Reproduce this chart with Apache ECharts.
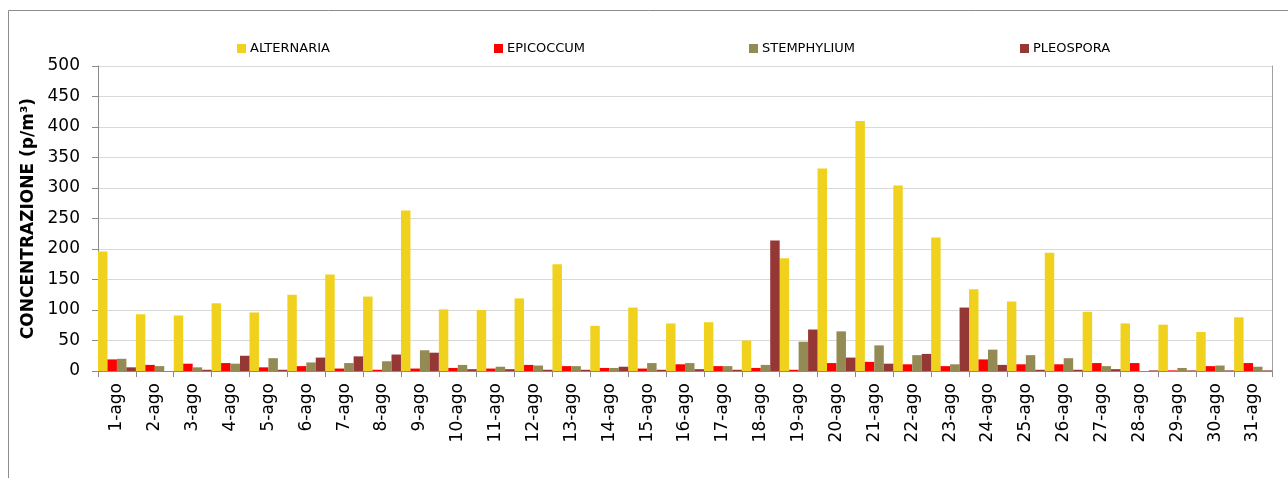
<!DOCTYPE html>
<html>
<head>
<meta charset="utf-8">
<script src="https://cdn.jsdelivr.net/npm/echarts@6/dist/echarts.min.js"></script>
<style>
html,body{margin:0;padding:0;background:#fff;}
#c{width:1288px;height:478px;}
</style>
</head>
<body>
<div id="c"></div>
<script>
const categories = ['1-ago','2-ago','3-ago','4-ago','5-ago','6-ago','7-ago','8-ago','9-ago','10-ago','11-ago','12-ago','13-ago','14-ago','15-ago','16-ago','17-ago','18-ago','19-ago','20-ago','21-ago','22-ago','23-ago','24-ago','25-ago','26-ago','27-ago','28-ago','29-ago','30-ago','31-ago'];
const alternaria = [196,93,91,111,96,125,158,122,263,101,100,119,175,74,104,78,80,50,185,332,410,304,219,134,114,194,97,78,76,64,88];
const epicoccum = [19,10,12,13,6,8,4,2,4,5,4,10,8,5,4,11,8,5,2,13,15,11,8,19,11,11,13,13,1,8,13];
const stemphylium = [20,8,6,12,21,14,13,16,34,10,7,9,8,5,13,13,8,10,48,65,42,26,11,35,26,21,8,0,5,9,7];
const pleospora = [6,0,2,25,2,22,24,27,30,3,3,2,2,7,2,3,2,214,68,22,12,28,104,10,2,2,3,1,1,1,1];
const seriesNames = ['ALTERNARIA','EPICOCCUM','STEMPHYLIUM','PLEOSPORA'];
const seriesColors = ['#F0D21E','#FF0000','#948A54','#953735'];
const seriesData = [alternaria, epicoccum, stemphylium, pleospora];
const legendLeft = [232, 489, 744, 1015];

const FONT = 'DejaVu Sans';
const chart = echarts.init(document.getElementById('c'), null, {renderer:'canvas'});
const option = {
  animation: false,
  backgroundColor: '#ffffff',
  graphic: [{
    type: 'rect',
    shape: {x: 8.5, y: 10.5, width: 1300, height: 500},
    style: {fill: 'none', stroke: '#8c8c8c', lineWidth: 1},
    silent: true, z: -10
  }],
  legend: seriesNames.map((n, i) => ({
    data: [n],
    left: legendLeft[i],
    top: 37,
    icon: 'rect',
    itemWidth: 9,
    itemHeight: 9,
    itemGap: 4,
    textStyle: {fontFamily: FONT, fontSize: 13, color: '#000', padding: [0,0,0,-1]},
    selectedMode: false
  })),
  grid: {left: 98, right: 16, top: 66, bottom: 107, containLabel: false},
  xAxis: {
    type: 'category',
    data: categories,
    axisLine: {show: true, lineStyle: {color: '#8a8a8a', width: 1}},
    axisTick: {show: true, alignWithLabel: false, length: 6, lineStyle: {color: '#8a8a8a'}},
    axisLabel: {rotate: 90, margin: 12, interval: 0, fontFamily: FONT, fontSize: 17, color: '#000'}
  },
  yAxis: [{
    type: 'value',
    min: 0, max: 500, interval: 50,
    name: 'CONCENTRAZIONE (p/m³)',
    nameLocation: 'middle',
    nameGap: 61,
    nameTextStyle: {fontFamily: FONT, fontSize: 17, fontWeight: 'bold', color: '#000'},
    axisLine: {show: true, lineStyle: {color: '#8a8a8a', width: 1}},
    axisTick: {show: true, length: 6, lineStyle: {color: '#8a8a8a'}},
    axisLabel: {margin: 18, fontFamily: FONT, fontSize: 17, color: '#000'},
    splitLine: {show: true, lineStyle: {color: '#d9d9d9', width: 1}}
  }, {
    type: 'value',
    position: 'right',
    min: 0, max: 500, interval: 50,
    axisLine: {show: true, lineStyle: {color: '#a0a0a0', width: 1}},
    axisTick: {show: false},
    axisLabel: {show: false},
    splitLine: {show: false}
  }],
  series: seriesNames.map((n, i) => ({
    name: n,
    type: 'bar',
    data: seriesData[i],
    itemStyle: {color: seriesColors[i]},
    barGap: '0%',
    barCategoryGap: '0%'
  }))
};
chart.setOption(option);
</script>
</body>
</html>
